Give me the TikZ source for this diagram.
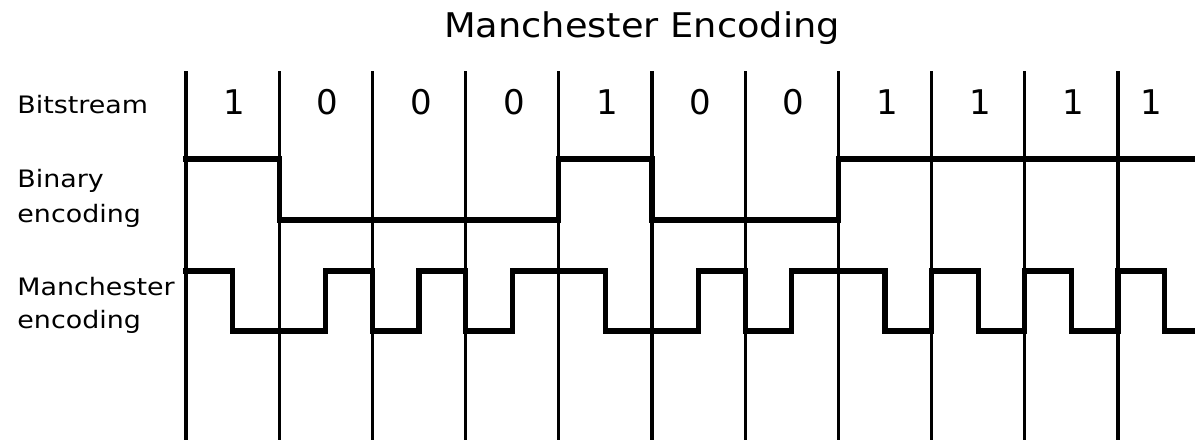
\documentclass[tikz,border=0pt]{standalone}
\usepackage{fontspec}
\setmainfont{DejaVu Sans}
\begin{document}
\begin{tikzpicture}[x=0.5pt,y=-0.5pt,
  gridline/.style={line width=1.6pt},
  sig/.style={line width=2.6pt, line join=miter, line cap=butt},
  lab/.style={anchor=base west, inner sep=0pt, font=\fontsize{12pt}{14pt}\selectfont, xscale=1.12},
  bit/.style={anchor=base, inner sep=0pt, font=\fontsize{17pt}{20pt}\selectfont},
  ttl/.style={anchor=base, inner sep=0pt, font=\fontsize{17pt}{20pt}\selectfont, xscale=1.08}]
\useasboundingbox (0,0) rectangle (1195,440);
\fill[white] (0,0) rectangle (1195,440);

% title
\node[ttl] (title) at (642,37) {Manchester Encoding};

% row labels
\node[lab] (lbits) at (17,113) {Bitstream};
\node[lab] (lbin1) at (17,187) {Binary};
\node[lab] (lbin2) at (17,222) {encoding};
\node[lab] (lman1) at (17,295) {Manchester};
\node[lab] (lman2) at (17,328) {encoding};

% cell boundaries
\foreach \i in {0,...,10}
  \draw[gridline] ({186+93.2*\i},71) -- ({186+93.2*\i},440);

% bit values
\foreach \v [count=\i from 0] in {1,0,0,0,1,0,0,1,1,1}
  \node[bit] (b\i) at ({186+93.2*\i+46.6+2},114) {\v};
\node[bit] (b10) at (1151,114) {1};

% binary (NRZ) encoding
\draw[sig] (183,159) -- (279.2,159) -- (279.2,220) -- (558.8,220) -- (558.8,159)
  -- (652,159) -- (652,220) -- (838.4,220) -- (838.4,159) -- (1195,159);

% Manchester encoding
\draw[sig] (183,271) -- (232.6,271) -- (232.6,331) -- (325.8,331) -- (325.8,271)
  -- (372.4,271) -- (372.4,331) -- (419,331) -- (419,271) -- (465.6,271)
  -- (465.6,331) -- (512.2,331) -- (512.2,271) -- (605.4,271) -- (605.4,331)
  -- (698.6,331) -- (698.6,271) -- (745.2,271) -- (745.2,331) -- (791.8,331)
  -- (791.8,271) -- (885,271) -- (885,331) -- (931.6,331) -- (931.6,271)
  -- (978.2,271) -- (978.2,331) -- (1024.8,331) -- (1024.8,271) -- (1071.4,271)
  -- (1071.4,331) -- (1118,331) -- (1118,271) -- (1164.6,271) -- (1164.6,331)
  -- (1195,331);
\end{tikzpicture}
\end{document}
